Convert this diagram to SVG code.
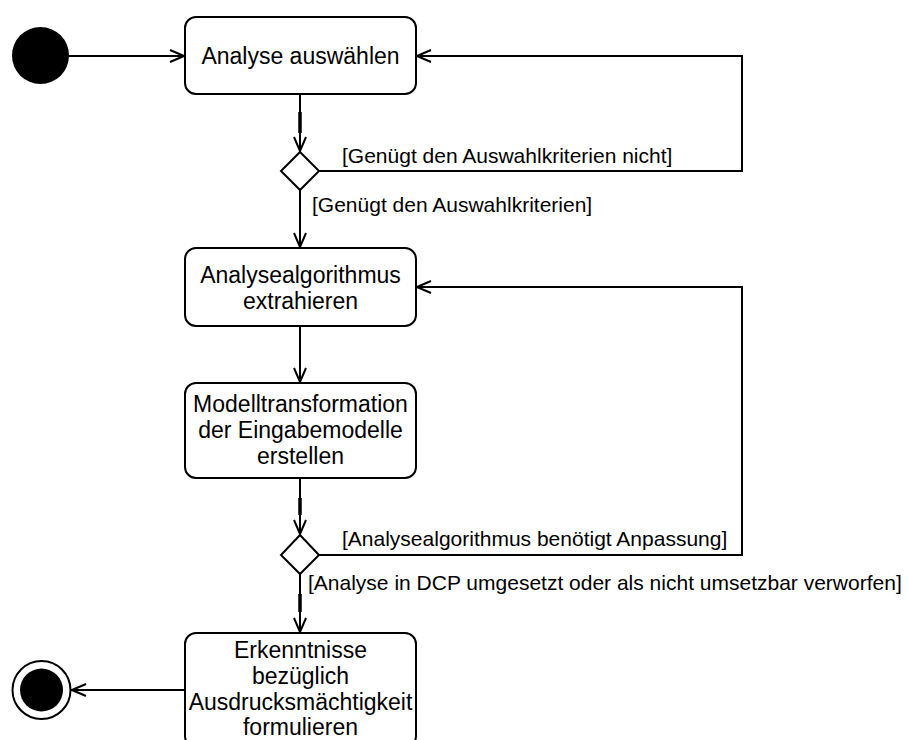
<svg xmlns="http://www.w3.org/2000/svg" width="908" height="740" viewBox="0 0 908 740">
  <defs>
    <style>
      .node { fill: #ffffff; stroke: #000000; stroke-width: 2; }
      .edge { fill: none; stroke: #000000; stroke-width: 2; }
      .overlap { fill: none; stroke: #000000; stroke-width: 3.5; }
      .ntext { font-family: "Liberation Sans", Arial, Helvetica, sans-serif; font-size: 23px; fill: #000000; text-anchor: middle; }
      .ltext { font-family: "Liberation Sans", Arial, Helvetica, sans-serif; font-size: 21px; fill: #000000; }
    </style>
    <marker id="open" viewBox="0 0 16 14" refX="15" refY="7" markerWidth="16" markerHeight="14" markerUnits="userSpaceOnUse" orient="auto">
      <path d="M1,1 L15,7 L1,13" fill="none" stroke="#000000" stroke-width="2"/>
    </marker>
  </defs>
  <rect width="908" height="740" fill="#ffffff"/>

  <g id="connectors">
    <path class="edge" d="M69,56 L184,56" marker-end="url(#open)"/>
    <path class="edge" d="M300,94 L300,151" marker-end="url(#open)"/>
    <path class="overlap" d="M300,112 L300,133"/>
    <path class="edge" d="M319,171 L742,171 L742,56 L417,56" marker-end="url(#open)"/>
    <path class="edge" d="M300,190 L300,247" marker-end="url(#open)"/>
    <path class="edge" d="M300,326 L300,382" marker-end="url(#open)"/>
    <path class="edge" d="M300,478 L300,534" marker-end="url(#open)"/>
    <path class="overlap" d="M300,498 L300,515"/>
    <path class="edge" d="M319,555 L742,555 L742,287 L417,287" marker-end="url(#open)"/>
    <path class="edge" d="M300,574 L300,632" marker-end="url(#open)"/>
    <path class="overlap" d="M300,594 L300,612"/>
    <path class="edge" d="M185,690 L72,690" marker-end="url(#open)"/>
    <text class="ltext" x="342" y="163">[Genügt den Auswahlkriterien nicht]</text>
    <text class="ltext" x="312" y="212">[Genügt den Auswahlkriterien]</text>
    <text class="ltext" x="342" y="546">[Analysealgorithmus benötigt Anpassung]</text>
    <text class="ltext" x="308" y="590">[Analyse in DCP umgesetzt oder als nicht umsetzbar verworfen]</text>
  </g>

  <g id="start">
    <circle cx="40.5" cy="55.5" r="28.5" fill="#000000"/>
  </g>

  <g id="analyse-auswaehlen">
    <rect class="node" x="185" y="17" width="231" height="77" rx="11" ry="11"/>
    <text class="ntext" x="300.5" y="64">Analyse auswählen</text>
  </g>

  <g id="decision-1">
    <path class="node" d="M300,152 L319,171 L300,190 L281,171 Z"/>
  </g>

  <g id="algorithmus-extrahieren">
    <rect class="node" x="185" y="248" width="231" height="78" rx="11" ry="11"/>
    <text class="ntext" x="300.5" y="283">Analysealgorithmus</text>
    <text class="ntext" x="300.5" y="309">extrahieren</text>
  </g>

  <g id="modelltransformation">
    <rect class="node" x="185" y="383" width="231" height="95" rx="11" ry="11"/>
    <text class="ntext" x="300.5" y="412">Modelltransformation</text>
    <text class="ntext" x="300.5" y="438">der Eingabemodelle</text>
    <text class="ntext" x="300.5" y="464">erstellen</text>
  </g>

  <g id="decision-2">
    <path class="node" d="M300,535 L319,555 L300,574 L281,555 Z"/>
  </g>

  <g id="erkenntnisse">
    <rect class="node" x="185" y="633" width="231" height="114" rx="11" ry="11"/>
    <text class="ntext" x="300.5" y="658">Erkenntnisse</text>
    <text class="ntext" x="300.5" y="684">bezüglich</text>
    <text class="ntext" x="300.5" y="710">Ausdrucksmächtigkeit</text>
    <text class="ntext" x="300.5" y="735">formulieren</text>
  </g>

  <g id="end">
    <circle cx="41.5" cy="690" r="29" fill="#ffffff" stroke="#000000" stroke-width="2"/>
    <circle cx="41.5" cy="690" r="21.5" fill="#000000"/>
  </g>
</svg>
